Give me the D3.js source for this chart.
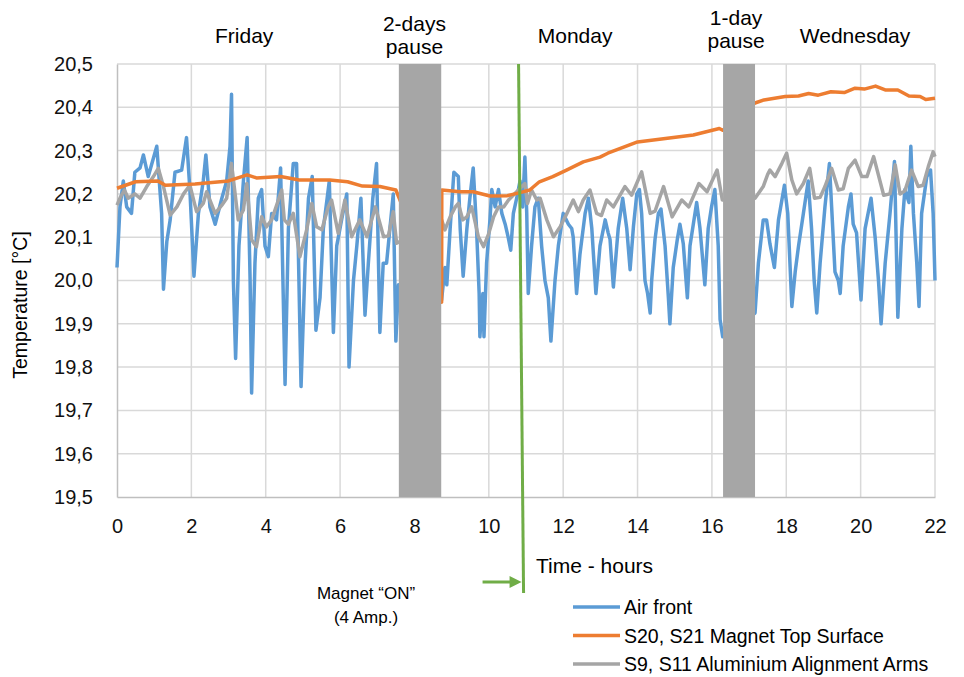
<!DOCTYPE html>
<html>
<head>
<meta charset="utf-8">
<script src="https://cdn.jsdelivr.net/npm/d3@7"></script>
<style>
  body { margin: 0; background: #fff; }
  #chart { width: 964px; height: 677px; }
  text { font-family: "Liberation Sans", Arial, sans-serif; fill: #000; }
  .tick-label { font-size: 20px; fill: #111; }
  .grid line { stroke: #d9d9d9; stroke-width: 1.5; }
</style>
</head>
<body>
<div id="chart"></div>
<script>
// Air front (blue)
const airHours = [0, 0.04, 0.08, 0.17, 0.26, 0.39, 0.48, 0.62, 0.71, 0.84, 1.07, 1.2, 1.25, 1.34, 1.43, 1.56, 1.74, 1.87, 1.96, 2.07,
  2.19, 2.32, 2.39, 2.5, 2.64, 2.82, 2.95, 3.04, 3.08, 3.13, 3.19, 3.28, 3.4, 3.5, 3.58, 3.62, 3.71, 3.8, 3.89, 3.98,
  4.07, 4.16, 4.29, 4.4, 4.52, 4.61, 4.74, 4.83, 4.95, 5.06, 5.15, 5.25, 5.35, 5.46, 5.55, 5.71, 5.82, 5.91, 6.04, 6.18,
  6.24, 6.36, 6.45, 6.56, 6.67, 6.76, 6.88, 6.98, 7.07, 7.16, 7.25, 7.43, 7.5, 7.57,
  8.73, 8.82, 8.87, 8.96, 9.06, 9.18, 9.23, 9.31, 9.41, 9.49, 9.58, 9.67, 9.74, 9.76, 9.84, 9.87, 9.94, 10.03, 10.08, 10.17,
  10.26, 10.35, 10.44, 10.52, 10.59, 10.66, 10.75, 10.84, 10.91, 10.97, 11.02, 11.06, 11.15, 11.24, 11.33, 11.42, 11.51, 11.6, 11.67, 11.78,
  11.87, 12.0, 12.14, 12.23, 12.27, 12.36, 12.45, 12.59, 12.68, 12.77, 12.88, 12.99, 13.13, 13.21, 13.26, 13.35, 13.48, 13.6, 13.71, 13.8,
  13.89, 13.98, 14.05, 14.11, 14.2, 14.27, 14.34, 14.38, 14.47, 14.56, 14.63, 14.74, 14.83, 14.87, 14.96, 15.07, 15.14, 15.23, 15.34, 15.41,
  15.5, 15.59, 15.68, 15.81, 15.9, 15.99, 16.08, 16.17, 16.22, 16.29,
  17.16, 17.25, 17.38, 17.47, 17.56, 17.68, 17.79, 17.95, 18.04, 18.15, 18.24, 18.33, 18.46, 18.59, 18.68, 18.75, 18.82, 18.91, 19.04, 19.16,
  19.22, 19.31, 19.4, 19.45, 19.53, 19.67, 19.74, 19.8, 19.89, 20.01, 20.12, 20.28, 20.39, 20.48, 20.55, 20.66, 20.79, 20.91, 21.0, 21.11,
  21.19, 21.3, 21.35, 21.42, 21.51, 21.57, 21.64, 21.78, 21.88, 21.95, 22.0]
const airTemp = [20.03, 20.10, 20.17, 20.23, 20.17, 20.155, 20.25, 20.26, 20.29, 20.24, 20.31, 20.155, 19.98, 20.09, 20.14, 20.25, 20.255, 20.33, 20.21, 20.01,
  20.155, 20.23, 20.29, 20.17, 20.13, 20.19, 20.23, 20.31, 20.43, 20.0, 19.82, 20.08, 20.23, 20.33, 20.0, 19.74, 20.04, 20.19, 20.21, 20.08,
  20.055, 20.155, 20.14, 20.26, 19.76, 20.12, 20.27, 20.27, 19.755, 20.04, 20.19, 20.24, 19.885, 19.96, 20.12, 20.23, 19.88, 20.08, 20.14, 20.20,
  19.80, 20.0, 20.08, 20.19, 19.92, 20.04, 20.19, 20.27, 19.88, 20.04, 20.04, 20.20, 19.86, 19.99,
  19.955, 20.03, 19.99, 20.12, 20.25, 20.24, 20.12, 20.01, 20.12, 20.19, 20.26, 20.12, 19.97, 19.87, 19.97, 19.87, 20.04, 20.14, 20.21, 20.17,
  20.21, 20.155, 20.13, 20.10, 20.07, 20.155, 20.19, 20.23, 20.17, 20.285, 20.155, 19.97, 20.08, 20.17, 20.19, 20.08, 20.0, 19.96, 19.86, 20.0,
  20.08, 20.155, 20.13, 20.12, 20.10, 19.97, 20.06, 20.155, 20.19, 20.12, 19.97, 20.08, 20.14, 20.11, 20.095, 19.985, 20.12, 20.19, 20.12, 20.025,
  20.125, 20.20, 20.21, 20.155, 20.0, 19.97, 19.925, 20.0, 20.095, 20.155, 20.165, 20.08, 19.96, 19.90, 20.03, 20.095, 20.13, 20.085, 19.96, 20.08,
  20.13, 20.18, 20.12, 19.99, 20.12, 20.17, 20.21, 20.08, 19.91, 19.87,
  19.925, 20.04, 20.14, 20.14, 20.085, 20.03, 20.14, 20.22, 20.155, 19.94, 20.02, 20.08, 20.155, 20.23, 20.12, 20.0, 19.925, 20.04, 20.17, 20.27,
  20.17, 20.02, 20.0, 19.97, 20.08, 20.17, 20.20, 20.13, 20.11, 19.955, 20.12, 20.19, 20.10, 20.0, 19.90, 20.04, 20.155, 20.275, 19.915, 20.12,
  20.21, 20.18, 20.31, 20.155, 20.04, 19.94, 20.155, 20.24, 20.255, 20.155, 20.0]

// S20, S21 magnet top surface (orange)
const magnetHours = [0, 0.5, 1.1, 1.3, 2.1, 3.0, 3.5, 3.75, 4.4, 4.9, 5.72, 6.2, 6.6, 7.07, 7.5,
  8.73, 8.735, 9.23, 9.58, 10.03, 10.5, 10.84, 11.1, 11.36, 11.72, 12.09, 12.54, 12.99, 13.2, 14.0, 14.75, 15.5, 16.2, 16.29,
  17.16, 17.4, 17.97, 18.33, 18.6, 18.86, 19.2, 19.56, 19.85, 20.1, 20.4, 20.66, 21.0, 21.3, 21.6, 21.75, 22.0]
const magnetTemp = [20.213, 20.228, 20.23, 20.22, 20.223, 20.23, 20.244, 20.237, 20.24, 20.232, 20.232, 20.228, 20.218, 20.217, 20.209,
  19.95, 20.209, 20.205, 20.205, 20.195, 20.196, 20.203, 20.209, 20.228, 20.24, 20.255, 20.274, 20.285, 20.294, 20.32, 20.328, 20.336, 20.351, 20.347,
  20.41, 20.417, 20.425, 20.426, 20.432, 20.428, 20.436, 20.434, 20.444, 20.442, 20.449, 20.44, 20.44, 20.426, 20.425, 20.418, 20.421]

// S9, S11 aluminium alignment arms (grey)
const armHours = [0, 0.1, 0.2, 0.3, 0.48, 0.62, 0.8, 0.98, 1.11, 1.25, 1.43, 1.61, 1.79, 1.96, 2.14, 2.32, 2.41, 2.64, 2.82, 2.95,
  3.08, 3.26, 3.4, 3.49, 3.62, 3.75, 3.89, 4.02, 4.16, 4.34, 4.43, 4.5, 4.61, 4.74, 4.92, 5.1, 5.24, 5.37, 5.51, 5.68,
  5.77, 5.95, 6.13, 6.31, 6.53, 6.72, 6.95, 7.17, 7.3, 7.43, 7.52,
  8.73, 8.82, 8.96, 9.1, 9.18, 9.3, 9.41, 9.54, 9.72, 9.86, 10.0, 10.13, 10.26, 10.4, 10.53, 10.75, 10.97, 11.04, 11.15, 11.29,
  11.38, 11.56, 11.74, 11.92, 12.1, 12.27, 12.41, 12.54, 12.72, 12.9, 13.03, 13.17, 13.35, 13.66, 13.84, 14.11, 14.34, 14.47, 14.7, 14.93,
  15.19, 15.38, 15.65, 15.87, 16.14, 16.28,
  17.16, 17.38, 17.5, 17.56, 17.7, 17.88, 18.01, 18.15, 18.28, 18.46, 18.63, 18.76, 18.91, 19.04, 19.22, 19.4, 19.53, 19.67, 19.85, 20.03,
  20.17, 20.35, 20.62, 20.79, 20.93, 21.06, 21.19, 21.37, 21.55, 21.68, 21.82, 21.95, 22.0]
const armTemp = [20.174, 20.194, 20.209, 20.19, 20.20, 20.19, 20.217, 20.24, 20.259, 20.217, 20.151, 20.17, 20.20, 20.22, 20.159, 20.178, 20.205, 20.155, 20.174, 20.19,
  20.27, 20.14, 20.163, 20.224, 20.094, 20.078, 20.147, 20.124, 20.14, 20.186, 20.209, 20.14, 20.13, 20.155, 20.055, 20.117, 20.178, 20.124, 20.117, 20.17,
  20.186, 20.109, 20.186, 20.101, 20.14, 20.101, 20.17, 20.101, 20.103, 20.159, 20.086,
  20.14, 20.117, 20.147, 20.17, 20.178, 20.14, 20.147, 20.17, 20.101, 20.078, 20.109, 20.147, 20.17, 20.17, 20.186, 20.205, 20.224, 20.178, 20.209, 20.186,
  20.19, 20.14, 20.101, 20.124, 20.155, 20.186, 20.159, 20.186, 20.209, 20.155, 20.15, 20.186, 20.17, 20.217, 20.197, 20.251, 20.155, 20.16, 20.217, 20.147,
  20.186, 20.17, 20.224, 20.205, 20.255, 20.186,
  20.19, 20.217, 20.245, 20.255, 20.24, 20.27, 20.294, 20.232, 20.20, 20.224, 20.259, 20.19, 20.192, 20.217, 20.259, 20.209, 20.212, 20.259, 20.278, 20.24,
  20.24, 20.286, 20.197, 20.2, 20.267, 20.20, 20.207, 20.255, 20.217, 20.22, 20.263, 20.297, 20.286]

const seriesNames = ["Air front", "S20, S21 Magnet Top Surface", "S9, S11 Aluminium Alignment Arms"]
const seriesColors = ["#5b9bd5", "#ed7d31", "#a5a5a5"]

const pauseStart = [7.58, 16.3]
const pauseEnd = [8.72, 17.16]

const dayLabels = [["Friday"], ["2-days", "pause"], ["Monday"], ["1-day", "pause"], ["Wednesday"]]
const dayLabelHours = [3.42, 8.0, 12.32, 16.65, 19.85]

const magnetOnHour = 10.8

var width = 964, height = 677
const margin = {top: 64, left: 117, right: 29, bottom: 180}

var svg, xScale, yScale

drawChart()

function drawChart()
{
    xScale = d3.scaleLinear()
        .domain([0, 22])
        .range([margin.left, width - margin.right])
    yScale = d3.scaleLinear()
        .domain([19.5, 20.5])
        .range([height - margin.bottom, margin.top])

    const locale = d3.formatLocale({decimal: ",", thousands: ".", grouping: [3], currency: ["", ""]})
    const fmt = locale.format(".1f")

    svg = d3.select("#chart")
        .append("svg")
        .attr("width", width)
        .attr("height", height)
        .attr("display", "block")

    var yTicks = d3.range(0, 11).map(i => +(19.5 + i * 0.1).toFixed(1))
    var xTicks = d3.range(0, 23, 2)

    // grid
    var grid = svg.append("g").attr("class", "grid")
    grid.selectAll(".hgrid")
        .data(yTicks.slice(1))
        .enter().append("line")
        .attr("x1", xScale(0)).attr("x2", xScale(22))
        .attr("y1", d => yScale(d)).attr("y2", d => yScale(d))
    grid.selectAll(".vgrid")
        .data(xTicks.slice(1))
        .enter().append("line")
        .attr("x1", d => xScale(d)).attr("x2", d => xScale(d))
        .attr("y1", yScale(19.5)).attr("y2", yScale(20.5))

    // axes
    var yAxis = d3.axisLeft(yScale).tickValues(yTicks).tickFormat(fmt).tickSize(0).tickPadding(24)
    var xAxis = d3.axisBottom(xScale).tickValues(xTicks).tickFormat(d3.format("d")).tickSize(0).tickPadding(22)

    var gy = svg.append("g")
        .attr("transform", "translate(" + xScale(0) + ",0)")
        .call(yAxis)
    gy.select(".domain").attr("stroke", "#bfbfbf").attr("stroke-width", 1.5)
    gy.selectAll("text").attr("class", "tick-label").attr("font-family", null).attr("font-size", null)

    var gx = svg.append("g")
        .attr("transform", "translate(0," + yScale(19.5) + ")")
        .call(xAxis)
    gx.select(".domain").attr("stroke", "#bfbfbf").attr("stroke-width", 1.5)
    gx.selectAll("text").attr("class", "tick-label").attr("font-family", null).attr("font-size", null)

    svg.append("text")
        .attr("transform", "translate(" + 27 + "," + 305 + ") rotate(-90)")
        .attr("text-anchor", "middle")
        .style("font-size", "19.5px")
        .text("Temperature [°C]")

    svg.append("text")
        .attr("x", 536)
        .attr("y", yScale(19.5) + 76)
        .style("font-size", "21px")
        .text("Time - hours")

    // series
    var line = d3.line()
        .x(d => xScale(d[0]))
        .y(d => yScale(d[1]))
    var seriesData = [
        d3.zip(airHours, airTemp),
        d3.zip(magnetHours, magnetTemp),
        d3.zip(armHours, armTemp)
    ]
    // draw order: air, arms, magnet on top
    ;[0, 2, 1].forEach(function(i) {
        svg.append("path")
            .datum(seriesData[i])
            .attr("fill", "none")
            .attr("stroke", seriesColors[i])
            .attr("stroke-width", 3.5)
            .attr("stroke-linejoin", "round")
            .attr("d", line)
    })

    // pause bars
    svg.selectAll(".pause")
        .data(d3.zip(pauseStart, pauseEnd))
        .enter().append("rect")
        .attr("x", d => xScale(d[0]))
        .attr("width", d => xScale(d[1]) - xScale(d[0]))
        .attr("y", yScale(20.5))
        .attr("height", yScale(19.5) - yScale(20.5))
        .attr("fill", "#a6a6a6")

    // day labels
    dayLabels.forEach(function(lines, i) {
        var base = lines.length == 1 ? 43 : (i == 3 ? 25 : 31)
        lines.forEach(function(t, j) {
            svg.append("text")
                .attr("x", xScale(dayLabelHours[i]))
                .attr("y", base + j * 23)
                .attr("text-anchor", "middle")
                .style("font-size", "21px")
                .text(t)
        })
    })

    // magnet ON marker
    var green = "#70ad47"
    svg.append("line")
        .attr("x1", xScale(magnetOnHour)).attr("y1", yScale(20.5))
        .attr("x2", xScale(magnetOnHour) + 5).attr("y2", yScale(19.5) + 96)
        .attr("stroke", green)
        .attr("stroke-width", 3)
    var ay = yScale(19.5) + 85
    var ax = xScale(magnetOnHour) + 4
    svg.append("line")
        .attr("x1", ax - 40).attr("y1", ay)
        .attr("x2", ax - 10).attr("y2", ay)
        .attr("stroke", green)
        .attr("stroke-width", 3)
    svg.append("path")
        .attr("d", "M" + (ax - 13) + "," + (ay - 6) + "L" + (ax - 1) + "," + ay + "L" + (ax - 13) + "," + (ay + 6) + "Z")
        .attr("fill", green)

    svg.append("text")
        .attr("x", 366).attr("y", yScale(19.5) + 102)
        .attr("text-anchor", "middle")
        .style("font-size", "17px")
        .text("Magnet “ON”")
    svg.append("text")
        .attr("x", 366).attr("y", yScale(19.5) + 126)
        .attr("text-anchor", "middle")
        .style("font-size", "17px")
        .text("(4 Amp.)")

    // legend
    var legend = svg.append("g")
        .attr("transform", "translate(573," + (yScale(19.5) + 110) + ")")
    seriesNames.forEach(function(name, i) {
        var g = legend.append("g").attr("transform", "translate(0," + (i * 28.5) + ")")
        g.append("line")
            .attr("x1", 0).attr("x2", 47)
            .attr("stroke", seriesColors[i])
            .attr("stroke-width", 3.5)
        g.append("text")
            .attr("x", 51)
            .attr("y", 7)
            .style("font-size", "19.5px")
            .text(name)
    })
}
</script>
</body>
</html>
